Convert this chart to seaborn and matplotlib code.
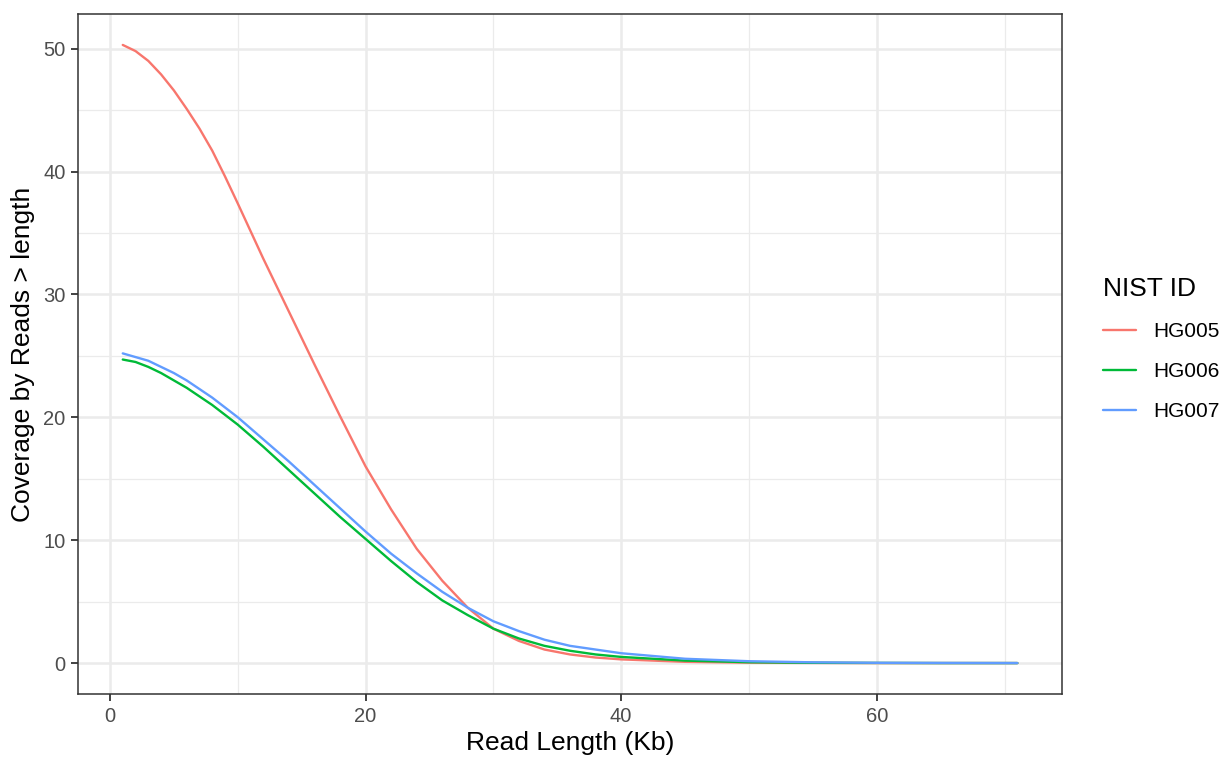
"""Coverage by reads longer than a given length, per NIST sample."""

import pandas as pd
import matplotlib
matplotlib.use("Agg")
import matplotlib.pyplot as plt
from matplotlib.ticker import MultipleLocator
import seaborn as sns

########
# Data #
########
# Read length (Kb) sampled along the curves
read_length = [1, 2, 3, 4, 5, 6, 7, 8, 9, 10, 12, 14, 16, 18, 20, 22, 24, 26,
               28, 30, 32, 34, 36, 38, 40, 45, 50, 55, 60, 65, 71]

# Coverage by reads > length for each sample
hg005 = [50.3, 49.8, 49.0, 47.9, 46.6, 45.1, 43.5, 41.7, 39.6, 37.4, 32.9, 28.6,
         24.3, 20.1, 16.0, 12.5, 9.3, 6.7, 4.5, 2.8, 1.8, 1.1, 0.7, 0.45,
         0.3, 0.1, 0.03, 0.01, 0.0, 0.0, 0.0]
hg006 = [24.7, 24.5, 24.1, 23.6, 23.0, 22.4, 21.7, 21.0, 20.2, 19.4, 17.6, 15.7,
         13.8, 11.9, 10.1, 8.3, 6.6, 5.1, 3.9, 2.8, 2.0, 1.4, 1.0, 0.7,
         0.5, 0.2, 0.07, 0.02, 0.01, 0.0, 0.0]
hg007 = [25.2, 24.9, 24.6, 24.1, 23.6, 23.0, 22.3, 21.6, 20.8, 20.0, 18.2, 16.4,
         14.5, 12.6, 10.7, 8.9, 7.3, 5.8, 4.5, 3.4, 2.6, 1.9, 1.4, 1.1,
         0.8, 0.35, 0.15, 0.06, 0.02, 0.01, 0.0]

sample_ids = ["HG005", "HG006", "HG007"]
colors = ["#F8766D", "#00BA38", "#619CFF"]

# Long format for seaborn
frames = []
for sid, vals in zip(sample_ids, [hg005, hg006, hg007]):
    frames.append(pd.DataFrame({"length": read_length, "coverage": vals, "NIST ID": sid}))
data = pd.concat(frames, ignore_index=True)

########
# Plot #
########
sns.set_theme(style="white")
plt.rcParams["font.family"] = ["Liberation Sans", "DejaVu Sans"]

fig = plt.figure(figsize=(12.25, 7.59), dpi=100)
ax = fig.add_axes([0.0637, 0.0856, 0.8033, 0.896])

sns.lineplot(data=data, x="length", y="coverage", hue="NIST ID",
             palette=colors, linewidth=1.7, ax=ax)

ax.set_xlim(-2.5, 74.5)
ax.set_ylim(-2.52, 52.82)
ax.xaxis.set_major_locator(MultipleLocator(20))
ax.yaxis.set_major_locator(MultipleLocator(10))
ax.xaxis.set_minor_locator(MultipleLocator(10))
ax.yaxis.set_minor_locator(MultipleLocator(5))

# ggplot theme_bw-like grid
ax.set_axisbelow(True)
ax.grid(which="major", color="#EBEBEB", linewidth=1.8)
ax.grid(which="minor", color="#EBEBEB", linewidth=0.9)
for side in ax.spines.values():
    side.set_color("#333333")
    side.set_linewidth(1.1)

ax.tick_params(axis="both", which="major", length=5, width=1.3, color="#333333",
               labelsize=14.5, labelcolor="#4D4D4D", pad=4, bottom=True, left=True)
ax.tick_params(axis="both", which="minor", length=0)

ax.set_xlabel("Read Length (Kb)", fontsize=19, color="black", labelpad=4)
ax.set_ylabel("Coverage by Reads > length", fontsize=19, color="black", labelpad=6)

# Legend outside on the right
handles, labels = ax.get_legend_handles_labels()
ax.legend_.remove()
leg = fig.legend(handles, labels, title="NIST ID", loc="center left",
                 bbox_to_anchor=(0.8854, 0.540), frameon=False,
                 fontsize=15, title_fontsize=19, handlelength=1.55,
                 labelspacing=1.0, handletextpad=0.85, labelcolor="black")
leg.get_title().set_color("black")
leg._legend_box.align = "left"

fig.savefig("out.png", dpi=100)
